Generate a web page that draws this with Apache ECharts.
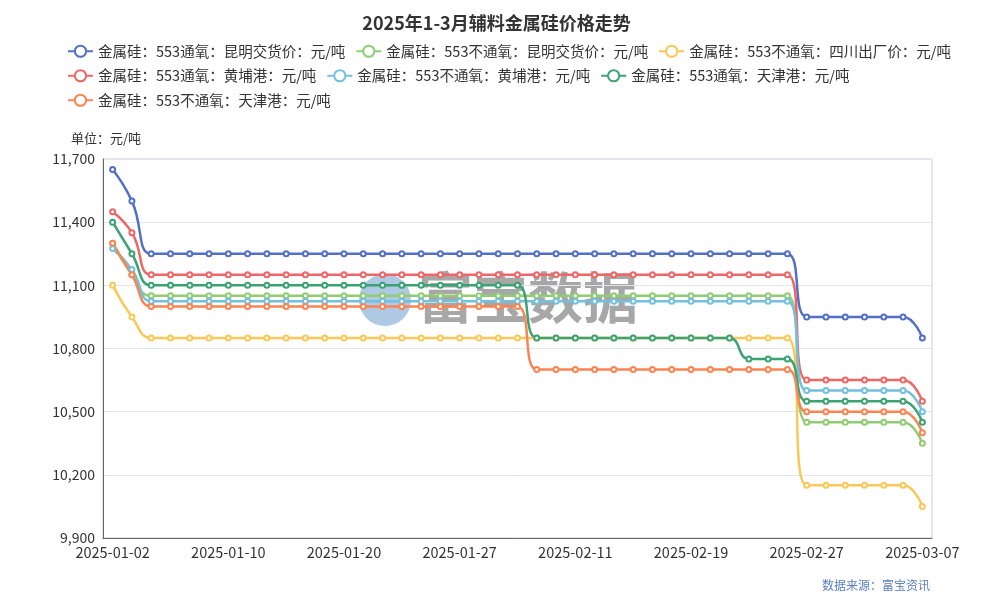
<!DOCTYPE html>
<html>
<head>
<meta charset="utf-8">
<script src="https://cdn.jsdelivr.net/npm/echarts@6/dist/echarts.min.js"></script>
<style>html,body{margin:0;padding:0;background:#fff;}#c{width:993px;height:600px;}</style>
</head>
<body>
<div id="c"></div>
<script>
var dates = ['2025-01-02','2025-01-03','2025-01-06','2025-01-07','2025-01-08','2025-01-09','2025-01-10',
'2025-01-13','2025-01-14','2025-01-15','2025-01-16','2025-01-17','2025-01-20',
'2025-01-21','2025-01-22','2025-01-23','2025-01-24','2025-01-26','2025-01-27',
'2025-02-05','2025-02-06','2025-02-07','2025-02-08','2025-02-10','2025-02-11',
'2025-02-12','2025-02-13','2025-02-14','2025-02-17','2025-02-18','2025-02-19',
'2025-02-20','2025-02-21','2025-02-24','2025-02-25','2025-02-26','2025-02-27',
'2025-02-28','2025-03-03','2025-03-04','2025-03-05','2025-03-06','2025-03-07'];

var names = ['金属硅：553通氧：昆明交货价：元/吨','金属硅：553不通氧：昆明交货价：元/吨','金属硅：553不通氧：四川出厂价：元/吨',
'金属硅：553通氧：黄埔港：元/吨','金属硅：553不通氧：黄埔港：元/吨','金属硅：553通氧：天津港：元/吨','金属硅：553不通氧：天津港：元/吨'];

var kmTongyang = [11650,11500,11250,11250,11250,11250,11250,11250,11250,11250,11250,11250,11250,11250,11250,11250,11250,11250,11250,11250,11250,11250,11250,11250,11250,11250,11250,11250,11250,11250,11250,11250,11250,11250,11250,11250,10950,10950,10950,10950,10950,10950,10850];
var kmBuTong = [11300,11150,11050,11050,11050,11050,11050,11050,11050,11050,11050,11050,11050,11050,11050,11050,11050,11050,11050,11050,11050,11050,11050,11050,11050,11050,11050,11050,11050,11050,11050,11050,11050,11050,11050,11050,10450,10450,10450,10450,10450,10450,10350];
var scBuTong = [11100,10950,10850,10850,10850,10850,10850,10850,10850,10850,10850,10850,10850,10850,10850,10850,10850,10850,10850,10850,10850,10850,10850,10850,10850,10850,10850,10850,10850,10850,10850,10850,10850,10850,10850,10850,10150,10150,10150,10150,10150,10150,10050];
var hpTongyang = [11450,11350,11150,11150,11150,11150,11150,11150,11150,11150,11150,11150,11150,11150,11150,11150,11150,11150,11150,11150,11150,11150,11150,11150,11150,11150,11150,11150,11150,11150,11150,11150,11150,11150,11150,11150,10650,10650,10650,10650,10650,10650,10550];
var hpBuTong = [11275,11175,11025,11025,11025,11025,11025,11025,11025,11025,11025,11025,11025,11025,11025,11025,11025,11025,11025,11025,11025,11025,11025,11025,11025,11025,11025,11025,11025,11025,11025,11025,11025,11025,11025,11025,10600,10600,10600,10600,10600,10600,10500];
var tjTongyang = [11400,11250,11100,11100,11100,11100,11100,11100,11100,11100,11100,11100,11100,11100,11100,11100,11100,11100,11100,11100,11100,11100,10850,10850,10850,10850,10850,10850,10850,10850,10850,10850,10850,10750,10750,10750,10550,10550,10550,10550,10550,10550,10450];
var tjBuTong = [11300,11150,11000,11000,11000,11000,11000,11000,11000,11000,11000,11000,11000,11000,11000,11000,11000,11000,11000,11000,11000,11000,10700,10700,10700,10700,10700,10700,10700,10700,10700,10700,10700,10700,10700,10700,10500,10500,10500,10500,10500,10500,10400];

var seriesData = [kmTongyang, kmBuTong, scBuTong, hpTongyang, hpBuTong, tjTongyang, tjBuTong];
var yTicks = {min: 9900, max: 11700, interval: 300};

var font = '"Noto Sans CJK SC", "Noto Sans", sans-serif';
var chart = echarts.init(document.getElementById('c'));
chart.setOption({
  color: ['#5470c6','#91cc75','#fac858','#ee6666','#73c0de','#3ba272','#fc8452'],
  textStyle: {fontFamily: font},
  title: {text: '2025年1-3月辅料金属硅价格走势', left: 'center', top: 9,
    textStyle: {fontSize: 18, fontWeight: 'bold', color: '#333', fontFamily: font}},
  legend: {left: 62, right: 30, top: 39, itemWidth: 25, itemHeight: 14, itemGap: 10,
    textStyle: {fontSize: 14.5, color: '#333', fontFamily: font}},
  grid: {left: 103, right: 61, top: 159, bottom: 62, show: true, borderColor: '#ccc', borderWidth: 1},
  graphic: [
    {type: 'circle', left: 359, top: 274, z: 0, silent: true,
      shape: {r: 26}, style: {fill: 'rgba(110,155,205,0.55)'}},
    {type: 'text', left: 418, top: 270, z: 0, silent: true,
      style: {text: '富宝数据', fontSize: 55, fontWeight: 'bold', fill: 'rgba(120,120,120,0.65)', fontFamily: font}},
    {type: 'text', right: 63, top: 579, silent: true,
      style: {text: '数据来源：富宝资讯', fontSize: 12, fill: '#5b7fbf', fontFamily: font}}
  ],
  xAxis: {type: 'category', data: dates, boundaryGap: true,
    axisLine: {lineStyle: {color: '#666'}},
    axisTick: {alignWithLabel: true, interval: 5, lineStyle: {color: '#666'}},
    axisLabel: {interval: 5, color: '#333', fontSize: 14.5, margin: 7, fontFamily: font}},
  yAxis: {type: 'value', min: yTicks.min, max: yTicks.max, interval: yTicks.interval,
    name: '单位：元/吨', nameLocation: 'end', nameGap: 14,
    nameTextStyle: {color: '#333', fontSize: 13, align: 'right', padding: [0, -38, 0, 0], fontFamily: font},
    axisLine: {show: true, lineStyle: {color: '#666'}},
    axisLabel: {color: '#333', fontSize: 14, fontFamily: font,
      formatter: function (v) { return v.toLocaleString('en-US'); }},
    splitLine: {lineStyle: {color: '#e0e6f1'}}},
  series: names.map(function (n, i) {
    return {name: n, type: 'line', data: seriesData[i], smooth: true, symbol: 'emptyCircle', symbolSize: 5,
      lineStyle: {width: 2.5}, z: 3};
  })
});
</script>
</body>
</html>
